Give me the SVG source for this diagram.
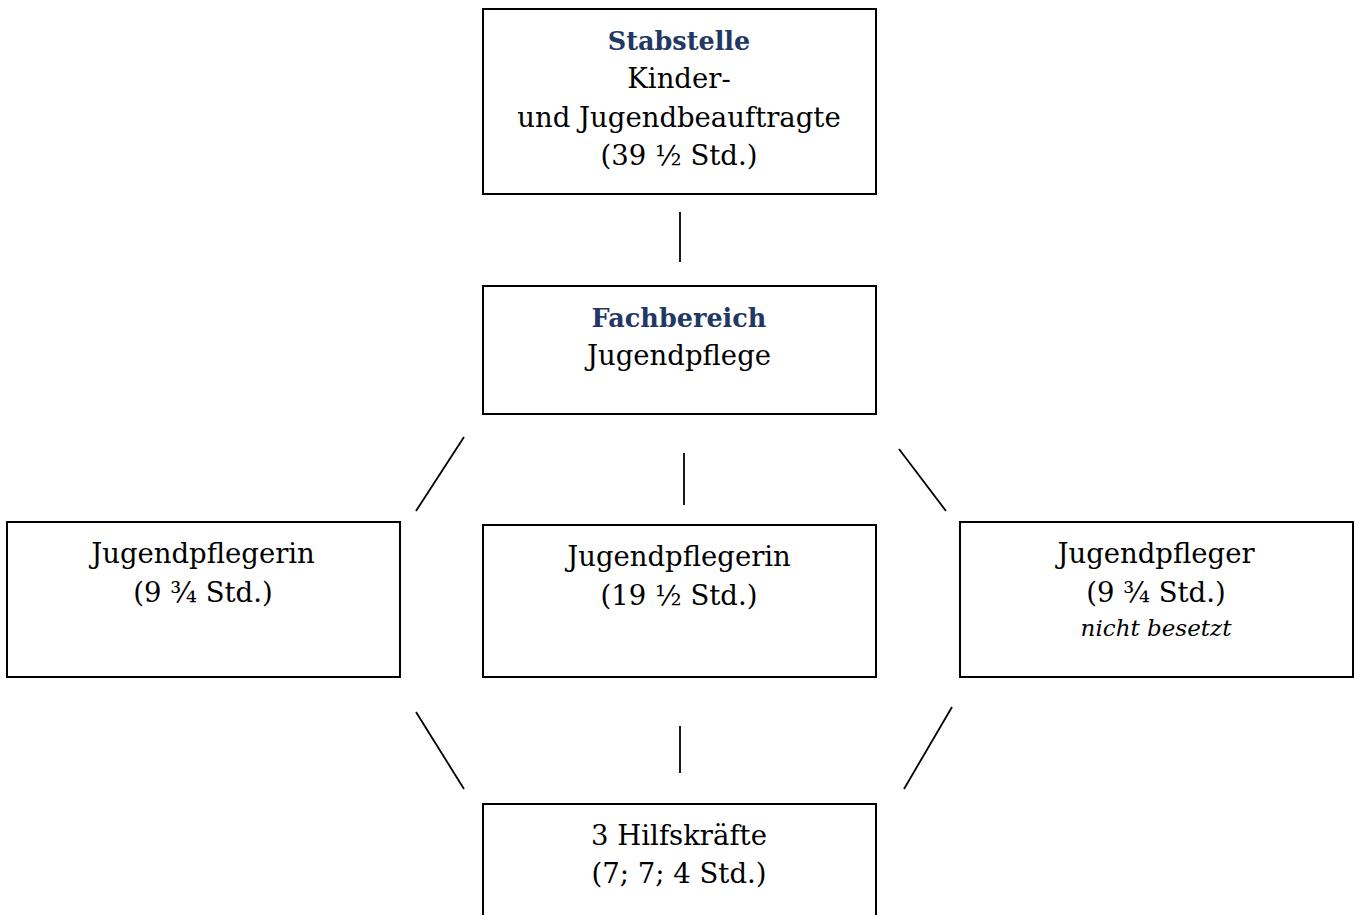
<svg xmlns="http://www.w3.org/2000/svg" width="1357" height="915" viewBox="0 0 1357 915">
<style>
.box{fill:#fff;stroke:#000;stroke-width:2}
.t{font-family:"DejaVu Serif","Liberation Serif",serif;font-size:27.5px;fill:#000;text-anchor:middle}
.h{font-weight:bold;fill:#1F3864;font-size:25.5px}
.i{font-style:italic;font-size:23px}
.c line{stroke:#000;stroke-width:1.8}
</style>
<rect width="1357" height="915" fill="#fff"/>
<g class="c" id="connectors">
<line x1="680" y1="212" x2="680" y2="262"/>
<line x1="416" y1="511" x2="464" y2="437"/>
<line x1="684" y1="453" x2="684" y2="505"/>
<line x1="899" y1="449" x2="946" y2="511"/>
<line x1="416" y1="712" x2="464" y2="789"/>
<line x1="680" y1="726" x2="680" y2="773"/>
<line x1="952" y1="707" x2="904" y2="789"/>
</g>
<g id="stabstelle">
<rect class="box" x="483" y="9" width="393" height="185"/>
<text class="t h" x="679" y="50">Stabstelle</text>
<text class="t" x="679" y="88">Kinder-</text>
<text class="t" x="679" y="127">und Jugendbeauftragte</text>
<text class="t" x="679" y="165">(39 ½ Std.)</text>
</g>
<g id="fachbereich">
<rect class="box" x="483" y="286" width="393" height="128"/>
<text class="t h" x="679" y="327">Fachbereich</text>
<text class="t" x="679" y="365">Jugendpflege</text>
</g>
<g id="jugendpflegerin1">
<rect class="box" x="7" y="522" width="393" height="155"/>
<text class="t" x="203" y="563">Jugendpflegerin</text>
<text class="t" x="203" y="602">(9 ¾ Std.)</text>
</g>
<g id="jugendpflegerin2">
<rect class="box" x="483" y="525" width="393" height="152"/>
<text class="t" x="679" y="566">Jugendpflegerin</text>
<text class="t" x="679" y="605">(19 ½ Std.)</text>
</g>
<g id="jugendpfleger">
<rect class="box" x="960" y="522" width="393" height="155"/>
<text class="t" x="1156" y="563">Jugendpfleger</text>
<text class="t" x="1156" y="602">(9 ¾ Std.)</text>
<text class="t i" x="1156" y="636">nicht besetzt</text>
</g>
<g id="hilfskraefte">
<rect class="box" x="483" y="804" width="393" height="130"/>
<text class="t" x="679" y="845">3 Hilfskräfte</text>
<text class="t" x="679" y="883">(7; 7; 4 Std.)</text>
</g>
</svg>
